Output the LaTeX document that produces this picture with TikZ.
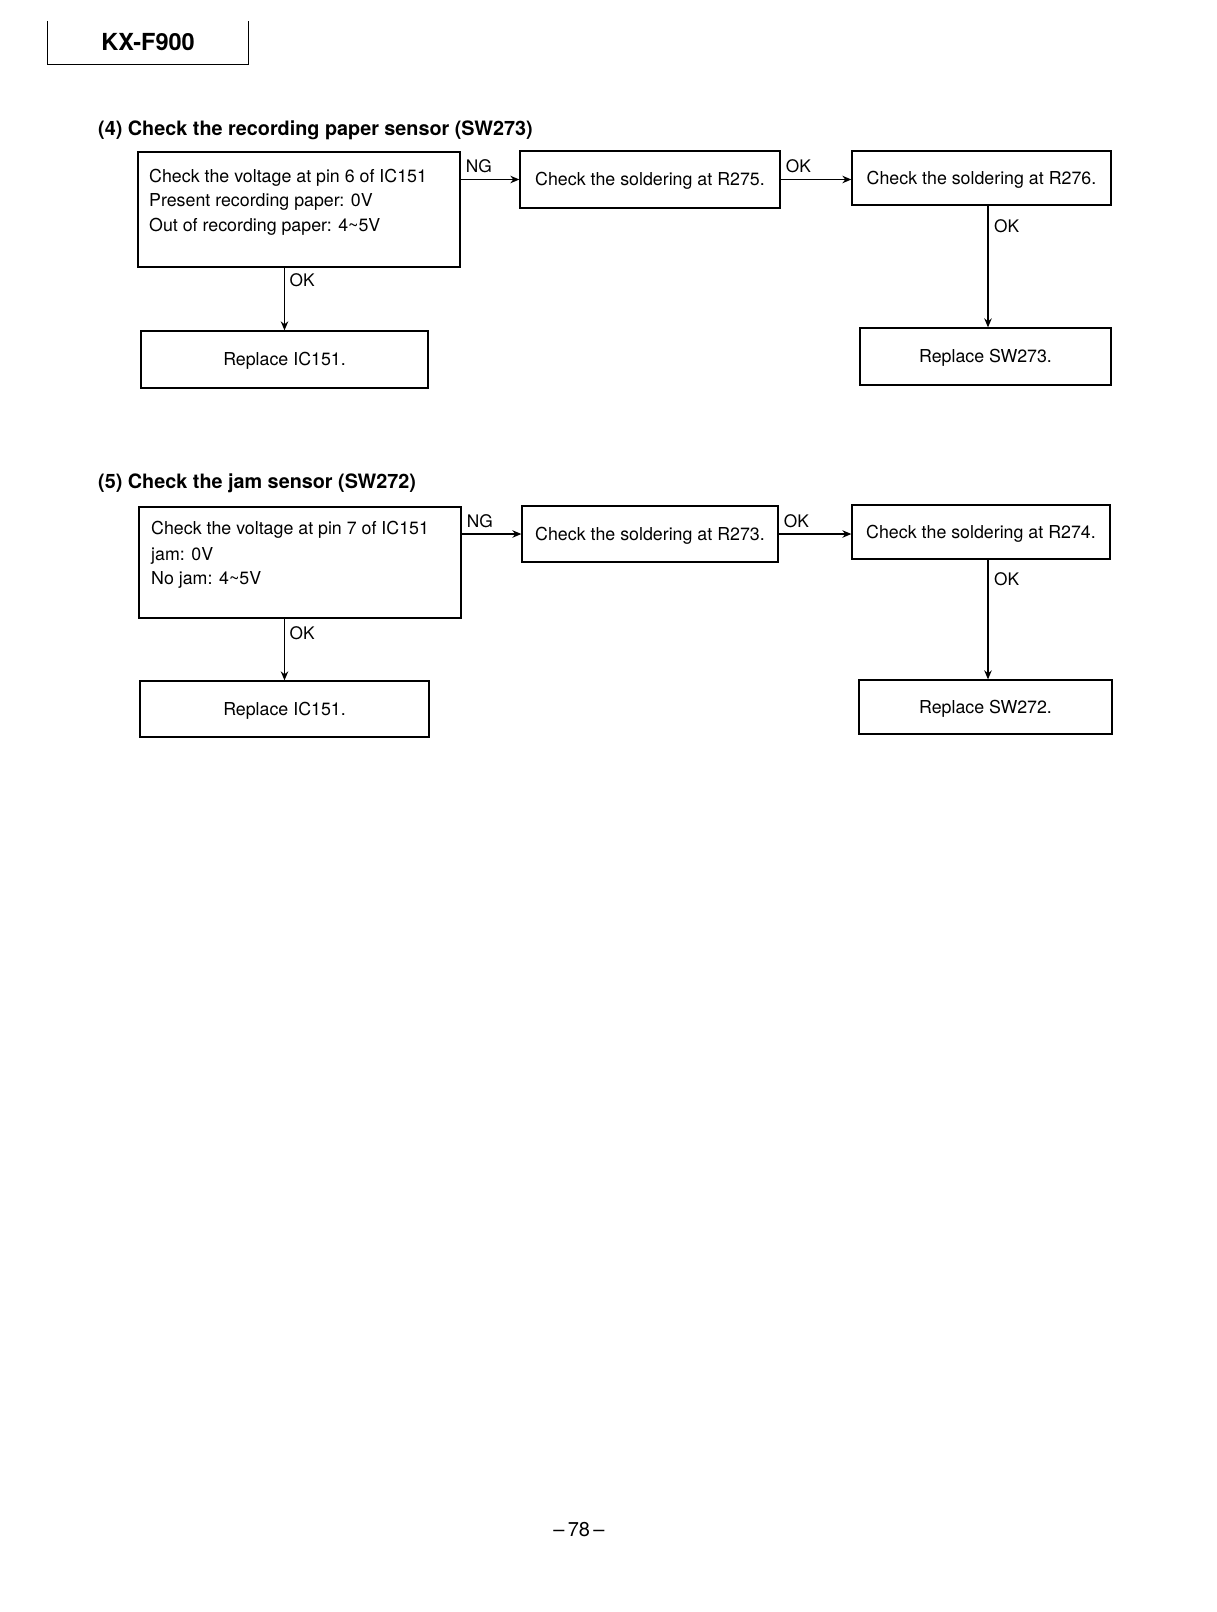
\documentclass[tikz,border=0pt]{standalone}
\usepackage{fontspec}
\setmainfont{TeX Gyre Heros}
\usetikzlibrary{arrows.meta,calc}
\newcommand{\myBody}{\fontsize{17.8}{22}\selectfont}
\newcommand{\myLbl}{\fontsize{17.3}{20}\selectfont}
\newcommand{\myTitle}{\fontsize{19.8}{24}\selectfont\bfseries}
\begin{document}
\begin{tikzpicture}[x=1pt,y=-1pt,
  box/.style={draw, line width=1.3pt, rectangle, inner sep=0pt, font=\myBody, text height=12.8pt, text depth=0pt},
  arr/.style={line width=1.3pt, -{Stealth[length=9pt,width=7.5pt]}},
  lbl/.style={font=\myLbl, inner sep=0pt, anchor=base west},
  ln/.style={font=\myBody, inner sep=0pt, anchor=base west},
  ttl/.style={font=\myTitle, inner sep=0pt, anchor=base west}]
\useasboundingbox[fill=white] (0,0) rectangle (1216,1612);

% header
\node[inner sep=0pt, minimum width=200, minimum height=43, font=\fontsize{23.5}{26}\selectfont\bfseries] (hdr) at (148,42.5) {KX-F900};
\draw[line width=1.3pt] (hdr.north west) -- (hdr.south west) -- (hdr.south east) -- (hdr.north east);

% section 4
\node[ttl] (t4) at (98,135) {(4) Check the recording paper sensor (SW273)};
\node[box, minimum width=322, minimum height=115] (a1) at (299,209.5) {};
\node[ln] (a1l1) at (149,182) {Check the voltage at pin 6 of IC151};
\node[ln] (a1l2) at (149,206) {Present recording paper: 0V};
\node[ln] (a1l3) at (149,231) {Out of recording paper: 4\textasciitilde5V};
\node[box, minimum width=260, minimum height=57] (a2) at (650,179.5) {Check the soldering at R275.};
\node[box, minimum width=259, minimum height=54] (a3) at (981.5,178) {Check the soldering at R276.};
\node[box, minimum width=287, minimum height=57] (a4) at (284.5,359.5) {Replace IC151.};
\node[box, minimum width=251, minimum height=57] (a5) at (985.5,356.5) {Replace SW273.};
\coordinate (a5in) at ($(a5.north)+(2.5,0)$);

\draw[arr] (a1.east |- a2.west) -- (a2.west);
\draw[arr] (a2.east) -- (a3.west |- a2.east);
\draw[arr] (a3.south -| a5in) -- (a5in);
\draw[arr] (a1.south -| a4.north) -- (a4.north);
\node[lbl] (ng4) at ($(a1.east |- a2.west)+(5,-7)$) {NG};
\node[lbl] (ok4a) at ($(a2.east)+(5,-7)$) {OK};
\node[lbl] (ok4b) at ($(a3.south -| a5in)+(6,27)$) {OK};
\node[lbl] (ok4c) at ($(a1.south -| a4.north)+(5,19)$) {OK};

% section 5
\node[ttl] (t5) at (98,488) {(5) Check the jam sensor (SW272)};
\node[box, minimum width=322, minimum height=111] (b1) at (300,562.5) {};
\node[ln] (b1l1) at (151,534) {Check the voltage at pin 7 of IC151};
\node[ln] (b1l2) at (151,560) {jam: 0V};
\node[ln] (b1l3) at (151,584) {No jam: 4\textasciitilde5V};
\node[box, minimum width=256, minimum height=56] (b2) at (650,534) {Check the soldering at R273.};
\node[box, minimum width=258, minimum height=54] (b3) at (981,532) {Check the soldering at R274.};
\node[box, minimum width=289, minimum height=56] (b4) at (284.5,709) {Replace IC151.};
\node[box, minimum width=253, minimum height=54] (b5) at (985.5,707) {Replace SW272.};
\coordinate (b5in) at ($(b5.north)+(2.5,0)$);

\draw[arr] (b1.east |- b2.west) -- (b2.west);
\draw[arr] (b2.east) -- (b3.west |- b2.east);
\draw[arr] (b3.south -| b5in) -- (b5in);
\draw[arr] (b1.south -| b4.north) -- (b4.north);
\node[lbl] (ng5) at ($(b1.east |- b2.west)+(5,-7)$) {NG};
\node[lbl] (ok5a) at ($(b2.east)+(5,-7)$) {OK};
\node[lbl] (ok5b) at ($(b3.south -| b5in)+(6,26)$) {OK};
\node[lbl] (ok5c) at ($(b1.south -| b4.north)+(5,21)$) {OK};

% page number
\node[inner sep=0pt, font=\fontsize{20}{24}\selectfont] (pg) at (579,1530) {\textendash\,78\,\textendash};
\end{tikzpicture}
\end{document}
